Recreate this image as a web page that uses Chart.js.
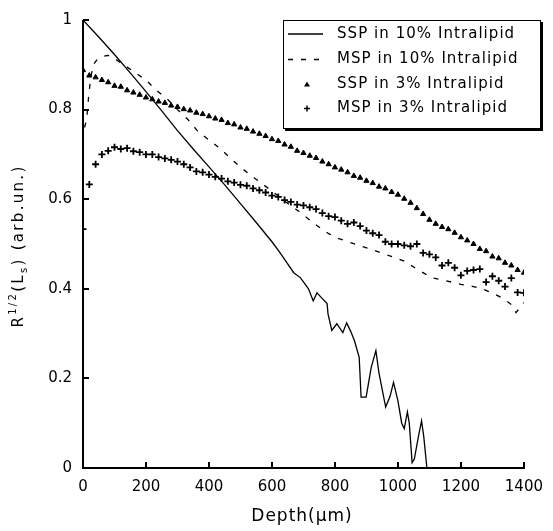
<!DOCTYPE html>
<html><head><meta charset="utf-8">
<script src="https://cdn.jsdelivr.net/npm/chart.js@4.4.0/dist/chart.umd.min.js"></script>
<style>html,body{margin:0;padding:0;background:#fff;}canvas{display:block;}</style>
</head><body>
<canvas id="c" width="553" height="531"></canvas>
<script>
const seriesLabels = ['SSP in 10% Intralipid', 'MSP in 10% Intralipid', 'SSP in 3% Intralipid', 'MSP in 3% Intralipid'];
const xTickValues = [0, 200, 400, 600, 800, 1000, 1200, 1400];
const yTickValues = [0, 0.2, 0.4, 0.6, 0.8, 1];
const xTitle = 'Depth(μm)';

const ssp10Depth = [0,50,100,150,200,250,300,350,400,450,500,550,600,622,644,669,690,716,731,743,760,775,778,790,806,825,837,850,862,877,883,899,915,930,940,961,975,986,1000,1012,1020,1030,1036,1045,1052,1065,1075,1082,1092];
const ssp10Values = [1.0,0.962,0.923,0.882,0.840,0.797,0.753,0.712,0.672,0.632,0.590,0.548,0.505,0.484,0.462,0.436,0.425,0.400,0.373,0.391,0.378,0.367,0.344,0.307,0.322,0.302,0.324,0.305,0.284,0.247,0.158,0.158,0.224,0.262,0.211,0.136,0.160,0.191,0.150,0.100,0.088,0.125,0.100,0.012,0.020,0.070,0.105,0.070,0.0];

const msp10Depth = [5,12,18,24,32,45,60,80,100,130,160,200,230,270,300,333,364,400,436,470,508,545,600,640,685,737,780,809,850,903,940,976,1020,1069,1111,1152,1200,1240,1267,1304,1330,1344,1360,1375,1390,1400];
const msp10Values = [0.76,0.78,0.83,0.868,0.90,0.912,0.918,0.921,0.914,0.90,0.885,0.866,0.845,0.822,0.800,0.778,0.752,0.732,0.713,0.690,0.667,0.647,0.618,0.596,0.573,0.544,0.523,0.513,0.503,0.491,0.482,0.473,0.462,0.440,0.424,0.418,0.410,0.405,0.400,0.389,0.380,0.373,0.365,0.347,0.360,0.369];

const depth3 = [0,20,40,60,80,100,120,140,160,180,200,220,240,260,280,300,320,340,360,380,400,420,440,460,480,500,520,540,560,580,600,620,640,660,680,700,720,740,760,780,800,820,840,860,880,900,920,940,960,980,1000,1020,1040,1060,1080,1100,1120,1140,1160,1180,1200,1220,1240,1260,1280,1300,1320,1340,1360,1380,1400];
const ssp3Values = [0.888,0.876,0.872,0.866,0.861,0.853,0.851,0.843,0.838,0.833,0.827,0.823,0.818,0.815,0.809,0.806,0.801,0.798,0.793,0.790,0.785,0.780,0.777,0.770,0.767,0.760,0.757,0.751,0.746,0.741,0.734,0.730,0.722,0.717,0.708,0.703,0.697,0.692,0.684,0.678,0.671,0.666,0.660,0.652,0.648,0.641,0.636,0.628,0.624,0.616,0.610,0.601,0.592,0.580,0.567,0.554,0.545,0.538,0.533,0.525,0.515,0.508,0.500,0.489,0.484,0.472,0.468,0.458,0.452,0.442,0.436];
const msp3Values = [0.533,0.633,0.678,0.700,0.708,0.716,0.712,0.714,0.707,0.705,0.700,0.700,0.694,0.691,0.688,0.684,0.678,0.671,0.662,0.660,0.655,0.650,0.646,0.640,0.637,0.632,0.630,0.624,0.620,0.615,0.608,0.605,0.598,0.594,0.588,0.586,0.582,0.578,0.569,0.562,0.560,0.552,0.545,0.548,0.540,0.530,0.524,0.520,0.505,0.500,0.500,0.497,0.495,0.500,0.480,0.477,0.470,0.452,0.458,0.447,0.430,0.440,0.442,0.444,0.415,0.428,0.418,0.405,0.424,0.392,0.391];

const FONT = '"DejaVu Sans", sans-serif';
const zip = (xs, ys) => xs.map((x, i) => ({x, y: ys[i]}));

function setSpacing(ctx, px) { try { ctx.letterSpacing = px + 'px'; } catch (e) {} }

const axisPlugin = {
  id: 'axisPlugin',
  afterDraw(chart) {
    const ctx = chart.ctx, a = chart.chartArea;
    const xs = chart.scales.x, ys = chart.scales.y;
    ctx.save();
    ctx.strokeStyle = '#000';
    ctx.lineWidth = 2;
    ctx.beginPath();
    ctx.moveTo(a.left, a.top); ctx.lineTo(a.left, a.bottom); ctx.lineTo(a.right + 1, a.bottom);
    ctx.stroke();
    ctx.beginPath();
    xTickValues.forEach(v => { const p = Math.round(xs.getPixelForValue(v)); ctx.moveTo(p, a.bottom); ctx.lineTo(p, a.bottom - 6); });
    yTickValues.forEach(v => { const p = Math.round(ys.getPixelForValue(v)); ctx.moveTo(a.left, p); ctx.lineTo(a.left + 6, p); });
    ctx.stroke();

    // legend
    const bx = 283, by = 20, bw = 257, bh = 108;
    ctx.fillStyle = '#fff';
    ctx.fillRect(bx, by, bw, bh);
    ctx.lineWidth = 1;
    ctx.strokeRect(bx + 0.5, by + 0.5, bw, bh);
    ctx.lineWidth = 2;
    ctx.beginPath();
    ctx.moveTo(bx + 2, by + bh + 2); ctx.lineTo(bx + bw + 2, by + bh + 2); ctx.lineTo(bx + bw + 2, by + 2);
    ctx.stroke();
    const rows = [34, 59.5, 84.5, 108.5];
    ctx.font = '15px ' + FONT;
    ctx.fillStyle = '#000';
    ctx.textBaseline = 'middle';
    ctx.textAlign = 'left';
    setSpacing(ctx, 1.05);
    rows.forEach((ry, i) => ctx.fillText(seriesLabels[i], 337, ry));
    setSpacing(ctx, 0);
    ctx.lineWidth = 1.3;
    ctx.beginPath(); ctx.moveTo(288, rows[0]); ctx.lineTo(323, rows[0]); ctx.stroke();
    ctx.setLineDash([5, 8]);
    ctx.beginPath(); ctx.moveTo(288, rows[1]); ctx.lineTo(323, rows[1]); ctx.stroke();
    ctx.setLineDash([]);
    ctx.beginPath();
    ctx.moveTo(307, rows[2] - 3); ctx.lineTo(310, rows[2] + 2); ctx.lineTo(304, rows[2] + 2); ctx.closePath(); ctx.fill();
    ctx.lineWidth = 1.5;
    ctx.beginPath();
    ctx.moveTo(304, rows[3]); ctx.lineTo(310, rows[3]); ctx.moveTo(307, rows[3] - 3); ctx.lineTo(307, rows[3] + 3);
    ctx.stroke();

    // x-axis title
    ctx.font = '17px ' + FONT;
    ctx.textAlign = 'center';
    ctx.textBaseline = 'middle';
    setSpacing(ctx, 1);
    ctx.fillText(xTitle, 302, 517);

    // y-axis title with superscript / subscript
    ctx.translate(23, 246);
    ctx.rotate(-Math.PI / 2);
    ctx.textAlign = 'left';
    ctx.textBaseline = 'alphabetic';
    const main = '15px ' + FONT, small = '10px ' + FONT;
    const parts = [
      {t: 'R', f: main, dy: 0},
      {t: '1/2', f: small, dy: -7},
      {t: '(L', f: main, dy: 0},
      {t: 's', f: small, dy: 4},
      {t: ') (arb.un.)', f: main, dy: 0}
    ];
    const sp = 2.3;
    setSpacing(ctx, 0);
    let total = 0;
    parts.forEach(p => { ctx.font = p.f; p.w = ctx.measureText(p.t).width + p.t.length * sp; total += p.w; });
    let x = -total / 2;
    setSpacing(ctx, sp);
    parts.forEach(p => { ctx.font = p.f; ctx.fillText(p.t, x, p.dy); x += p.w; });
    ctx.restore();
  }
};

new Chart(document.getElementById('c'), {
  type: 'scatter',
  data: {
    datasets: [
      {label: seriesLabels[0], data: zip(ssp10Depth, ssp10Values), showLine: true, borderColor: '#000', borderWidth: 1.3, pointRadius: 0, fill: false},
      {label: seriesLabels[1], data: zip(msp10Depth, msp10Values), showLine: true, borderColor: '#000', borderWidth: 1.3, borderDash: [5, 8], pointRadius: 0, fill: false},
      {label: seriesLabels[2], data: zip(depth3, ssp3Values), showLine: false, pointStyle: 'triangle', pointRadius: 3, backgroundColor: '#000', borderColor: '#000', borderWidth: 1},
      {label: seriesLabels[3], data: zip(depth3, msp3Values), showLine: false, pointStyle: 'cross', pointRadius: 3.5, borderColor: '#000', borderWidth: 1.8}
    ]
  },
  options: {
    responsive: false,
    animation: false,
    events: [],
    layout: {padding: {left: 0, right: 20, top: 18, bottom: 0}},
    plugins: {legend: {display: false}, tooltip: {enabled: false}},
    scales: {
      x: {
        type: 'linear', min: 0, max: 1400,
        afterBuildTicks: s => { s.ticks = xTickValues.map(v => ({value: v})); },
        afterFit: s => { s.height = 63; },
        grid: {display: false, drawTicks: false},
        border: {display: false},
        ticks: {color: '#000', padding: 10, maxRotation: 0, autoSkip: false, font: {family: FONT, size: 15},
                callback: v => String(v)},
        title: {display: false}
      },
      y: {
        min: 0, max: 1,
        afterBuildTicks: s => { s.ticks = yTickValues.map(v => ({value: v})); },
        afterFit: s => { s.width = 83; },
        grid: {display: false, drawTicks: false},
        border: {display: false},
        ticks: {color: '#000', padding: 11, autoSkip: false, font: {family: FONT, size: 15},
                callback: v => String(Math.round(v * 10) / 10)}
      }
    }
  },
  plugins: [axisPlugin]
});
</script>
</body></html>
